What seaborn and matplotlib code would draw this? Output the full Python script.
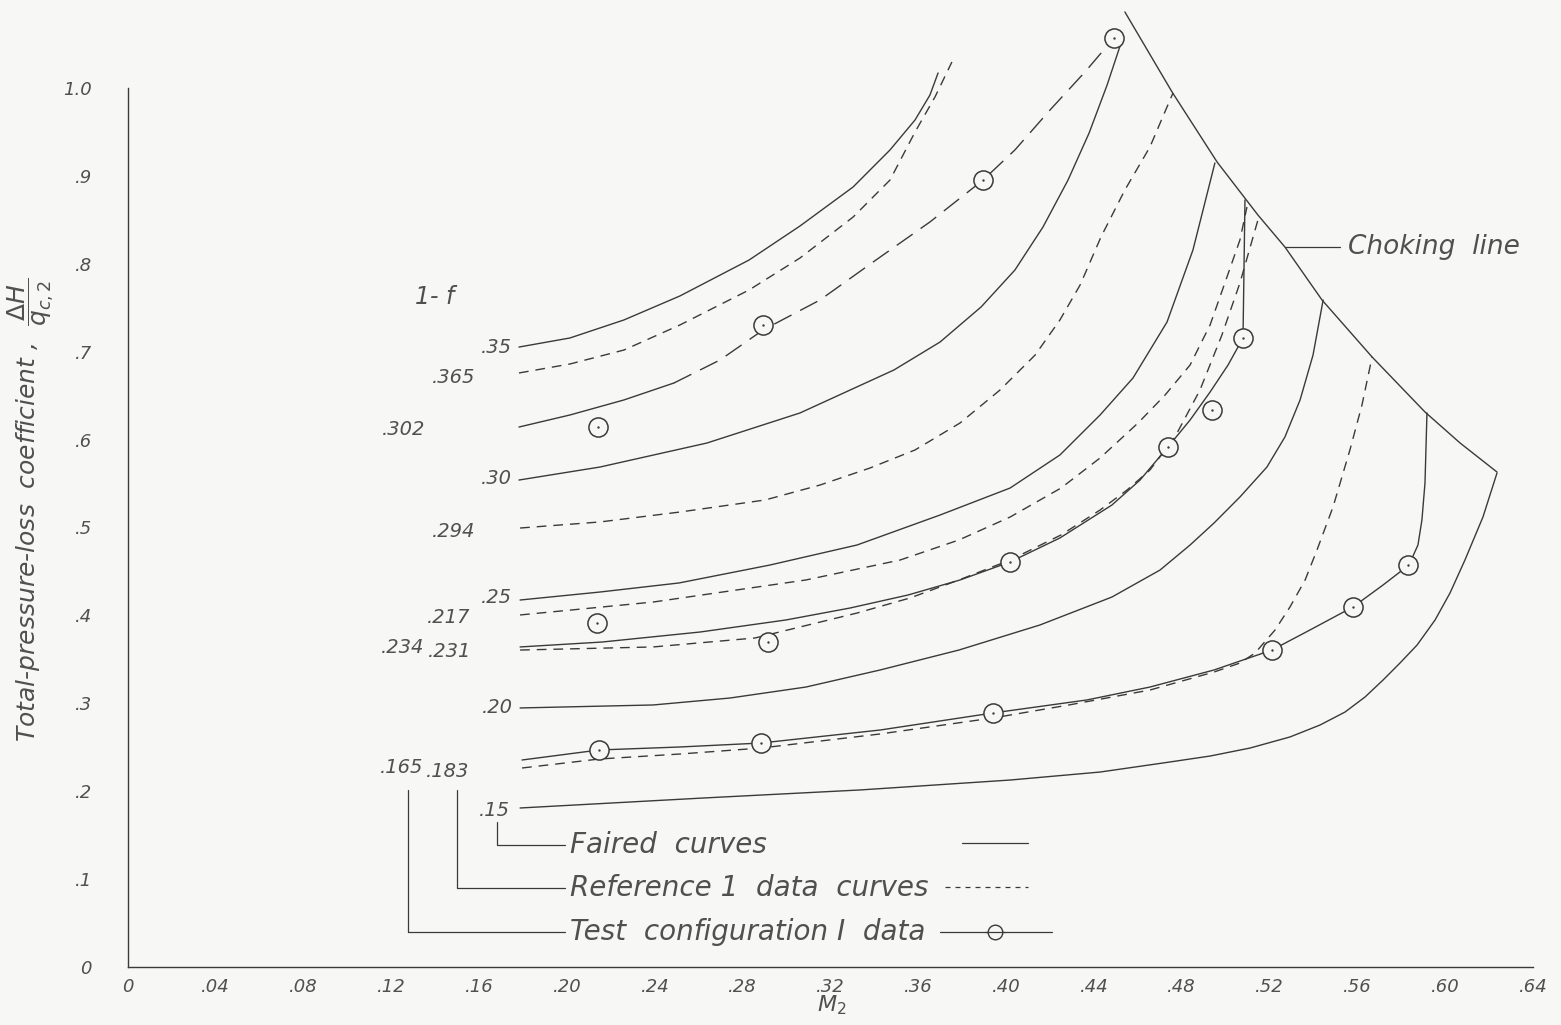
import seaborn as sns
import matplotlib.pyplot as plt
import numpy as np

# ---- values (x = M2, y = dH/qc2) ----
# choking line
choke_x = [0.4541, 0.4756, 0.4961, 0.5147, 0.5270, 0.5439, 0.5667, 0.5908, 0.6068, 0.6236]
choke_y = [1.0865, 0.9954, 0.9158, 0.8555, 0.8191, 0.7588, 0.6940, 0.6314, 0.5961, 0.5631]

# faired curves (solid)
f35_x = [0.1781, 0.2013, 0.2259, 0.2514, 0.2829, 0.3061, 0.3303, 0.3471, 0.3585, 0.3653, 0.3690]
f35_y = [0.7053, 0.7156, 0.7361, 0.7634, 0.8043, 0.8430, 0.8874, 0.9295, 0.9636, 0.9920, 1.0171]
f30_x = [0.1781, 0.2150, 0.2637, 0.3061, 0.3489, 0.3699, 0.3886, 0.4040, 0.4168, 0.4282, 0.4378, 0.4460, 0.4528]
f30_y = [0.5540, 0.5688, 0.5961, 0.6303, 0.6792, 0.7110, 0.7509, 0.7929, 0.8419, 0.8953, 0.9488, 1.0034, 1.0546]
f25_x = [0.1786, 0.2150, 0.2510, 0.2924, 0.3321, 0.3699, 0.4018, 0.4245, 0.4428, 0.4578, 0.4733, 0.4851, 0.4951]
f25_y = [0.4175, 0.4266, 0.4369, 0.4573, 0.4801, 0.5142, 0.5449, 0.5825, 0.6280, 0.6701, 0.7338, 0.8157, 0.9147]
f20_x = [0.1786, 0.2392, 0.2742, 0.3088, 0.3426, 0.3785, 0.4154, 0.4482, 0.4701, 0.4838, 0.4947,
         0.5065, 0.5188, 0.5270, 0.5339, 0.5398, 0.5444]
f20_y = [0.2947, 0.2981, 0.3060, 0.3185, 0.3379, 0.3606, 0.3891, 0.4209, 0.4516, 0.4801, 0.5051,
         0.5347, 0.5688, 0.6030, 0.6451, 0.6962, 0.7588]
f15_x = [0.1786, 0.2624, 0.3334, 0.4018, 0.4428, 0.4715, 0.4929, 0.5111, 0.5293, 0.5430, 0.5544,
         0.5635, 0.5717, 0.5794, 0.5872, 0.5954, 0.6022, 0.6090, 0.6172, 0.6236]
f15_y = [0.1809, 0.1923, 0.2014, 0.2127, 0.2218, 0.2321, 0.2400, 0.2491, 0.2617, 0.2753, 0.2901,
         0.3072, 0.3265, 0.3458, 0.3663, 0.3948, 0.4255, 0.4630, 0.5119, 0.5620]

# reference 1 data curves (dashed)
r365_x = [0.1781, 0.2013, 0.2259, 0.2514, 0.2829, 0.3061, 0.3303, 0.3471, 0.3585, 0.3676, 0.3753]
r365_y = [0.6758, 0.6860, 0.7019, 0.7304, 0.7702, 0.8066, 0.8532, 0.8953, 0.9499, 0.9898, 1.0296]
r294_x = [0.1786, 0.2150, 0.2514, 0.2902, 0.3152, 0.3380, 0.3585, 0.3790, 0.3972, 0.4132, 0.4245,
          0.4337, 0.4432, 0.4541, 0.4655, 0.4760]
r294_y = [0.4994, 0.5063, 0.5176, 0.5313, 0.5483, 0.5677, 0.5882, 0.6189, 0.6564, 0.6962, 0.7361,
          0.7759, 0.8305, 0.8840, 0.9329, 0.9943]
r217_x = [0.1786, 0.2392, 0.3088, 0.3517, 0.3785, 0.4018, 0.4250, 0.4428, 0.4601, 0.4724, 0.4838,
          0.4929, 0.5006, 0.5065, 0.5097]
r217_y = [0.4005, 0.4152, 0.4403, 0.4630, 0.4858, 0.5119, 0.5449, 0.5791, 0.6189, 0.6507, 0.6849,
          0.7304, 0.7850, 0.8271, 0.8646]
r231_x = [0.1786, 0.2392, 0.2856, 0.3321, 0.3562, 0.3785, 0.4018, 0.4250, 0.4428, 0.4551, 0.4655,
          0.4769, 0.4883, 0.4983, 0.5065, 0.5147]
r231_y = [0.3606, 0.3641, 0.3743, 0.4027, 0.4198, 0.4403, 0.4630, 0.4915, 0.5199, 0.5427, 0.5654,
          0.6030, 0.6564, 0.7190, 0.7782, 0.8498]
r183_x = [0.1795, 0.2146, 0.2514, 0.2883, 0.3426, 0.3940, 0.4286, 0.4655, 0.4947, 0.5065, 0.5134,
          0.5225, 0.5293, 0.5362, 0.5416, 0.5489, 0.5566, 0.5621, 0.5667]
r183_y = [0.2264, 0.2366, 0.2423, 0.2491, 0.2651, 0.2833, 0.2981, 0.3151, 0.3356, 0.3458, 0.3572,
          0.3834, 0.4096, 0.4403, 0.4744, 0.5233, 0.5882, 0.6394, 0.6940]

# test configuration 1 curves
t302_x = [0.1781, 0.2013, 0.2259, 0.2487, 0.2697, 0.2893, 0.3152, 0.3394, 0.3653, 0.3895, 0.4040,
          0.4200, 0.4359, 0.4491, 0.4528]
t302_y = [0.6143, 0.6280, 0.6451, 0.6644, 0.6906, 0.7247, 0.7588, 0.8020, 0.8476, 0.8953, 0.9295,
          0.9750, 1.0182, 1.0569, 1.0717]
t234_x = [0.1786, 0.2159, 0.2606, 0.2997, 0.3289, 0.3553, 0.3790, 0.4018, 0.4245, 0.4482, 0.4610,
          0.4737, 0.4838, 0.4929, 0.5011, 0.5079, 0.5088]
t234_y = [0.3641, 0.3697, 0.3811, 0.3948, 0.4084, 0.4232, 0.4403, 0.4608, 0.4881, 0.5256, 0.5540,
          0.5916, 0.6223, 0.6541, 0.6849, 0.7156, 0.8726]
t165_x = [0.1795, 0.2146, 0.2514, 0.2883, 0.3426, 0.3940, 0.4368, 0.4655, 0.4947, 0.5211, 0.5384,
          0.5580, 0.5717, 0.5835, 0.5876, 0.5894, 0.5908, 0.5917]
t165_y = [0.2355, 0.2469, 0.2503, 0.2548, 0.2696, 0.2890, 0.3038, 0.3185, 0.3379, 0.3606, 0.3834,
          0.4096, 0.4346, 0.4573, 0.4801, 0.5085, 0.5506, 0.6303]

# test configuration 1 data points
pts302_x = [0.2141, 0.2893, 0.3895, 0.4491]
pts302_y = [0.6143, 0.7304, 0.8953, 1.0569]
pts234_x = [0.2136, 0.2915, 0.4018, 0.4737, 0.4938, 0.5079]
pts234_y = [0.3914, 0.3697, 0.4608, 0.5916, 0.6337, 0.7156]
pts165_x = [0.2146, 0.2883, 0.3940, 0.5211, 0.5580, 0.5831]
pts165_y = [0.2469, 0.2548, 0.2890, 0.3606, 0.4096, 0.4573]

# curve labels (1 - f)
lab_text = [".35", ".365", ".302", ".30", ".294", ".25", ".217", ".234", ".231", ".20", ".165", ".183", ".15"]
lab_x = [0.1749, 0.158, 0.1353, 0.1749, 0.158, 0.1749, 0.1558, 0.1350, 0.1562, 0.1754, 0.1343, 0.1553, 0.174]
lab_y = [0.705, 0.671, 0.611, 0.556, 0.496, 0.420, 0.398, 0.363, 0.359, 0.295, 0.2275, 0.222, 0.1786]

xticks = [0, .04, .08, .12, .16, .20, .24, .28, .32, .36, .40, .44, .48, .52, .56, .60, .64]
xticklabels = ["0", ".04", ".08", ".12", ".16", ".20", ".24", ".28", ".32", ".36", ".40",
               ".44", ".48", ".52", ".56", ".60", ".64"]
yticks = [0, .1, .2, .3, .4, .5, .6, .7, .8, .9, 1.0]
yticklabels = ["0", ".1", ".2", ".3", ".4", ".5", ".6", ".7", ".8", ".9", "1.0"]

ink = "#3a3a3a"
txt = "#505050"
paper = "#f7f7f5"
dash = (0, (7, 5))
longdash = (0, (14, 7))

sns.set_style("white")
plt.rcParams['font.family'] = ['DejaVu Sans']
hand = dict(color=txt, fontstyle='italic', fontweight='light')

fig = plt.figure(figsize=(15.61, 10.25), dpi=100, facecolor=paper)
ax = fig.add_axes([128 / 1561, 58 / 1025, 1405 / 1561, 966.9 / 1025])
ax.set_facecolor(paper)

def curve(x, y, ls='-'):
    sns.lineplot(x=x, y=y, ax=ax, sort=False, estimator=None, color=ink, lw=1.0, linestyle=ls)

curve(choke_x, choke_y)
for cx, cy in [(f35_x, f35_y), (f30_x, f30_y), (f25_x, f25_y), (f20_x, f20_y), (f15_x, f15_y)]:
    curve(cx, cy)
for cx, cy in [(r365_x, r365_y), (r294_x, r294_y), (r217_x, r217_y), (r231_x, r231_y), (r183_x, r183_y)]:
    curve(cx, cy, dash)
curve(t302_x[:4], t302_y[:4])
curve(t302_x[3:], t302_y[3:], longdash)
curve(t234_x, t234_y)
curve(t165_x, t165_y)

for px_, py_ in [(pts302_x, pts302_y), (pts234_x, pts234_y), (pts165_x, pts165_y)]:
    sns.scatterplot(x=px_, y=py_, ax=ax, s=190, marker='o', facecolor=paper,
                    edgecolor=ink, linewidth=1.1, zorder=5)
    sns.scatterplot(x=px_, y=py_, ax=ax, s=3, color=ink, linewidth=0, zorder=6)

for t, lx, ly in zip(lab_text, lab_x, lab_y):
    ax.text(lx, ly, t, ha='right', va='center', fontsize=14, **hand)
ax.text(0.1398, 0.762, "1- f", ha='center', va='center', fontsize=17, **hand)

# choking line note
ax.plot([0.527, 0.552], [0.8191, 0.8191], color=ink, lw=0.9)
ax.text(0.5557, 0.8191, "Choking  line", ha='left', va='center', fontsize=19, **hand)

# key
ax.plot([0.1681, 0.1681, 0.199], [0.165, 0.1388, 0.1388], color=ink, lw=0.9)
ax.plot([0.1499, 0.1499, 0.199], [0.2014, 0.0899, 0.0899], color=ink, lw=0.9)
ax.plot([0.1275, 0.1275, 0.199], [0.2014, 0.0398, 0.0398], color=ink, lw=0.9)
ax.text(0.2013, 0.1388, "Faired  curves", ha='left', va='center', fontsize=20, **hand)
ax.text(0.2013, 0.0899, "Reference 1  data  curves", ha='left', va='center', fontsize=20, **hand)
ax.text(0.2013, 0.0398, "Test  configuration I  data", ha='left', va='center', fontsize=20, **hand)
ax.plot([0.3799, 0.410], [0.141, 0.141], color=ink, lw=0.9)
ax.plot([0.3722, 0.410], [0.091, 0.091], color=ink, lw=0.9, linestyle=(0, (4, 4)))
ax.plot([0.3699, 0.4209], [0.0398, 0.0398], color=ink, lw=0.9)
ax.scatter([0.3949], [0.0398], s=110, facecolor=paper, edgecolor=ink, linewidth=1.0, zorder=5)
ax.plot([0.3905, 0.3993], [0.0398, 0.0398], color=ink, lw=0.9, zorder=6)

# axes
ax.set_xlim(0, 0.64)
ax.set_ylim(0, 1.1)
sns.despine(ax=ax)
ax.spines['left'].set_bounds(0, 1.0)
ax.spines['bottom'].set_bounds(0, 0.64)
for s in ['left', 'bottom']:
    ax.spines[s].set_color(ink)
    ax.spines[s].set_linewidth(1.0)
ax.set_xticks(xticks)
ax.set_xticklabels(xticklabels)
ax.set_xticks(np.arange(0.02, 0.64, 0.04), minor=True)
ax.set_yticks(yticks)
ax.set_yticklabels(yticklabels)
ax.set_yticks(np.arange(0.05, 1.0, 0.1), minor=True)
ax.tick_params(axis='x', which='major', direction='in', length=9, width=0.9, color=ink, pad=8,
               labelsize=13, labelcolor=txt)
ax.tick_params(axis='x', which='minor', direction='in', length=5, width=0.9, color=ink)
ax.tick_params(axis='y', which='major', direction='in', length=10, width=0.9, color=ink, pad=26,
               labelsize=13, labelcolor=txt)
ax.tick_params(axis='y', which='minor', direction='in', length=5, width=0.9, color=ink)
for lbl in ax.get_xticklabels() + ax.get_yticklabels():
    lbl.set_fontstyle('italic')
ax.set_xlabel("")
ax.set_ylabel("")
ax.text(0.3207, -0.043, r"M$_2$", ha='center', va='center', fontsize=16, clip_on=False, **hand)
ax.text(-0.0447, 0.52, r"Total-pressure-loss  coefficient ,  $\dfrac{\Delta H}{q_{c,2}}$",
        rotation=90, ha='center', va='center', fontsize=18, clip_on=False, **hand)

fig.savefig("out.png", dpi=100, facecolor=paper)
